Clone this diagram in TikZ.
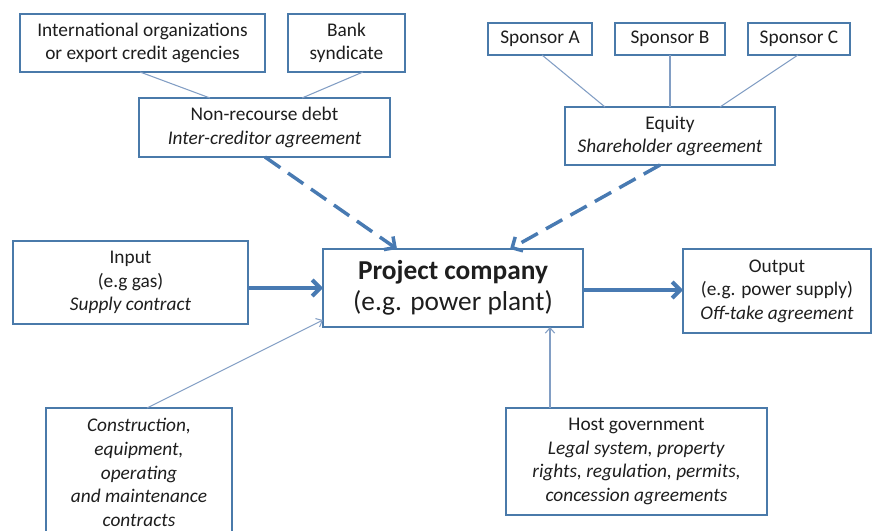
\documentclass[tikz,border=0pt]{standalone}
\usepackage{fontspec}
\setmainfont{Carlito}
\usetikzlibrary{arrows.meta,calc}
\definecolor{bordc}{RGB}{74,122,170}
\definecolor{linec}{RGB}{130,158,196}
\definecolor{arrc}{RGB}{72,122,178}
\definecolor{txtc}{RGB}{30,30,30}
\begin{document}
\begin{tikzpicture}[x=0.75pt,y=-0.75pt,
  box/.style={draw=bordc,line width=2.2pt,fill=white,inner sep=0pt,outer sep=0pt,align=center,
    text=txtc,font=\fontsize{14.5}{17.7}\selectfont},
  thin/.style={draw=linec,line width=0.8pt},
  thinarr/.style={thin,-{Straight Barb[length=4pt,width=7pt]}},
  thickarr/.style={draw=arrc,line width=3pt,-{Straight Barb[length=6pt,width=12pt]}},
  dasharr/.style={draw=arrc,line width=2.6pt,dash pattern=on 14pt off 7pt,-{Straight Barb[length=6pt,width=12pt]}}]
\useasboundingbox (0,0) rectangle (874,531);
\node[box,minimum width=183.75pt,minimum height=43.5pt] (intl) at (142.5,43) {International organizations\\or export credit agencies};
\node[box,minimum width=87.75pt,minimum height=43.5pt] (bank) at (346.5,43) {Bank\\syndicate};
\node[box,minimum width=188.25pt,minimum height=44.25pt] (nrd) at (264.5,127.5) {Non-recourse debt\\\textit{Inter-creditor agreement}};
\node[box,minimum width=78pt,minimum height=24pt] (spa) at (540,39) {Sponsor A};
\node[box,minimum width=82.5pt,minimum height=24pt] (spb) at (670,39) {Sponsor B};
\node[box,minimum width=76.5pt,minimum height=24pt] (spc) at (799,39) {Sponsor C};
\node[box,minimum width=157.5pt,minimum height=43.5pt] (eq) at (670,136) {Equity\\\textit{Shareholder agreement}};
\node[box,minimum width=176.25pt,minimum height=62.25pt] (inp) at (130.5,282.5) {Input\\(e.g gas)\\\textit{Supply contract}};
\node[box,minimum width=195pt,minimum height=58.5pt,font=\fontsize{20.5}{23}\selectfont] (proj) at (453,288) {\textbf{Project company}\\(e.g. power plant)};
\node[box,minimum width=141pt,minimum height=63pt] (out) at (777,291) {Output\\(e.g. power supply)\\\textit{Off-take agreement}};
\node[box,minimum width=139.5pt,minimum height=96.75pt] (cons) at (139,472.5) {\textit{Construction,}\\\textit{equipment,}\\\textit{operating}\\\textit{and maintenance}\\\textit{contracts}};
\node[box,minimum width=195.75pt,minimum height=80.25pt] (host) at (636.5,461.5) {Host government\\\textit{Legal system, property}\\\textit{rights, regulation, permits,}\\\textit{concession agreements}};
% thin connectors
\draw[thin] ($(intl.south west)+(120,0)$) -- ($(nrd.north west)+(71,0)$);
\draw[thin] ($(bank.south west)+(75,0)$) -- ($(nrd.north west)+(163,0)$);
\draw[thin] ($(spa.south west)+(54,0)$) -- ($(eq.north west)+(40,0)$);
\draw[thin] ($(spb.south west)+(55,0)$) -- ($(eq.north west)+(105,0)$);
\draw[thin] ($(spc.south west)+(50,0)$) -- ($(eq.north west)+(155,0)$);
% dashed arrows
\draw[dasharr] ($(nrd.south west)+(126,0)$) -- ($(proj.north west)+(74,0)$);
\draw[dasharr] ($(eq.south west)+(95,0)$) -- ($(proj.north west)+(187,0)$);
% thick arrows
\draw[thickarr] (inp.east |- proj.west) -- (proj.west);
\draw[thickarr] ($(proj.east)+(0,2)$) -- ($(proj.east -| out.west)+(0,2)$);
% thin arrows
\draw[thinarr] ($(cons.north west)+(101,0)$) -- ($(proj.south west)+(0,-7)$);
\draw[thinarr] ($(host.north west)+(44,0)$) -- ($(proj.south west)+(227,0)$);
\end{tikzpicture}
\end{document}
